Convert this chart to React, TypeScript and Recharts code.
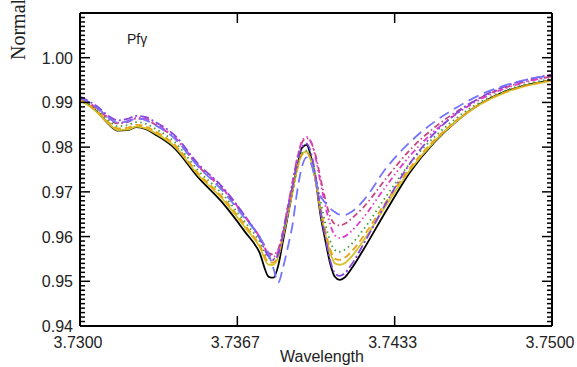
import React from 'react';
import { LineChart, Line, XAxis, YAxis, Customized } from 'recharts';

// wavelength grid (microns)
const wavelengths = [
  3.7300, 3.7304, 3.7308, 3.7312, 3.7316, 3.7320, 3.7324, 3.7328, 3.7332, 3.7340,
  3.7350, 3.7360, 3.7370, 3.7376, 3.7380, 3.7382, 3.7384, 3.7386, 3.7388, 3.7390,
  3.7392, 3.7394, 3.7396, 3.7398, 3.7400, 3.7402, 3.7404, 3.7406, 3.7408, 3.7410,
  3.7412, 3.7415, 3.7420, 3.7430, 3.7440, 3.7450, 3.7460, 3.7470, 3.7480, 3.7490,
  3.7500,
];

const fluxBlack = [
  0.9905, 0.9893, 0.9875, 0.9852, 0.9837, 0.9838, 0.9845, 0.9840, 0.9828, 0.9798,
  0.9733, 0.9678, 0.9610, 0.9565, 0.9510, 0.9508, 0.9535, 0.9590, 0.9645, 0.9700,
  0.9755, 0.9798, 0.9805, 0.9775, 0.9720, 0.9645, 0.9590, 0.9540, 0.9510, 0.9503,
  0.9508, 0.9528, 0.9570, 0.9660, 0.9745, 0.9810, 0.9860, 0.9898, 0.9924, 0.9940,
  0.9950,
];
const fluxYellow = [
  0.9905, 0.9892, 0.9874, 0.9853, 0.9838, 0.9839, 0.9846, 0.9842, 0.9831, 0.9802,
  0.9738, 0.9686, 0.9620, 0.9578, 0.9537, 0.9537, 0.9555, 0.9600, 0.9650, 0.9700,
  0.9750, 0.9785, 0.9790, 0.9768, 0.9720, 0.9655, 0.9605, 0.9565, 0.9540, 0.9537,
  0.9540, 0.9555, 0.9590, 0.9672, 0.9750, 0.9812, 0.9860, 0.9897, 0.9922, 0.9938,
  0.9949,
];
const fluxOrange = [
  0.9906, 0.9894, 0.9877, 0.9856, 0.9842, 0.9843, 0.9850, 0.9846, 0.9835, 0.9806,
  0.9742, 0.9690, 0.9625, 0.9582, 0.9543, 0.9542, 0.9558, 0.9602, 0.9650, 0.9700,
  0.9750, 0.9783, 0.9788, 0.9768, 0.9722, 0.9662, 0.9612, 0.9572, 0.9550, 0.9548,
  0.9552, 0.9566, 0.9600, 0.9680, 0.9755, 0.9815, 0.9862, 0.9898, 0.9923, 0.9939,
  0.9950,
];
const fluxGreen = [
  0.9908, 0.9896, 0.9880, 0.9860, 0.9847, 0.9849, 0.9856, 0.9852, 0.9841, 0.9812,
  0.9748, 0.9697, 0.9632, 0.9590, 0.9552, 0.9550, 0.9565, 0.9607, 0.9655, 0.9705,
  0.9755, 0.9787, 0.9792, 0.9775, 0.9732, 0.9677, 0.9628, 0.9590, 0.9570, 0.9566,
  0.9570, 0.9583, 0.9615, 0.9692, 0.9765, 0.9822, 0.9867, 0.9902, 0.9926, 0.9942,
  0.9953,
];
const fluxMagenta = [
  0.9910, 0.9899, 0.9884, 0.9866, 0.9855, 0.9858, 0.9866, 0.9863, 0.9852, 0.9823,
  0.9760, 0.9710, 0.9645, 0.9600, 0.9560, 0.9555, 0.9568, 0.9610, 0.9665, 0.9720,
  0.9775, 0.9812, 0.9823, 0.9810, 0.9772, 0.9718, 0.9668, 0.9627, 0.9603, 0.9597,
  0.9600, 0.9612, 0.9642, 0.9715, 0.9782, 0.9835, 0.9876, 0.9908, 0.9931, 0.9947,
  0.9958,
];
const fluxMauve = [
  0.9910, 0.9898, 0.9883, 0.9864, 0.9853, 0.9856, 0.9864, 0.9861, 0.9850, 0.9821,
  0.9758, 0.9708, 0.9643, 0.9600, 0.9563, 0.9560, 0.9572, 0.9612, 0.9665, 0.9720,
  0.9773, 0.9810, 0.9820, 0.9810, 0.9778, 0.9728, 0.9682, 0.9645, 0.9628, 0.9625,
  0.9628, 0.9640, 0.9665, 0.9732, 0.9795, 0.9843, 0.9881, 0.9911, 0.9933, 0.9948,
  0.9958,
];
const fluxPurple = [
  0.9913, 0.9902, 0.9888, 0.9870, 0.9860, 0.9863, 0.9870, 0.9867, 0.9856, 0.9827,
  0.9763, 0.9713, 0.9645, 0.9597, 0.9555, 0.9548, 0.9560, 0.9605, 0.9660, 0.9712,
  0.9765, 0.9800, 0.9808, 0.9785, 0.9730, 0.9655, 0.9597, 0.9547, 0.9518, 0.9512,
  0.9517, 0.9537, 0.9582, 0.9678, 0.9765, 0.9830, 0.9878, 0.9912, 0.9936, 0.9952,
  0.9962,
];
const fluxBlue = [
  0.9911, 0.9900, 0.9885, 0.9866, 0.9855, 0.9857, 0.9864, 0.9860, 0.9849, 0.9820,
  0.9757, 0.9705, 0.9640, 0.9600, 0.9560, 0.9528, 0.9497, 0.9530, 0.9575, 0.9625,
  0.9700, 0.9755, 0.9777, 0.9762, 0.9722, 0.9690, 0.9675, 0.9663, 0.9655, 0.9649,
  0.9648, 0.9655, 0.9680, 0.9755, 0.9812, 0.9856, 0.9890, 0.9918, 0.9938, 0.9952,
  0.9960,
];

const xTickValues = [3.73, 3.736667, 3.743333, 3.75];
const xTickLabels = ['3.7300', '3.7367', '3.7433', '3.7500'];
const yTickLabels = ['0.94', '0.95', '0.96', '0.97', '0.98', '0.99', '1.00'];

// minor ticks every 0.001 from 0.940 to 1.010
const yMinorTicks: number[] = [];
for (let m = 940; m <= 1010; m++) yMinorTicks.push(m / 1000);

const data = wavelengths.map((w, i) => ({
  w,
  black: fluxBlack[i],
  yellow: fluxYellow[i],
  orange: fluxOrange[i],
  green: fluxGreen[i],
  magenta: fluxMagenta[i],
  mauve: fluxMauve[i],
  purple: fluxPurple[i],
  blue: fluxBlue[i],
}));

const series = [
  { key: 'black', color: '#000000', dash: undefined },
  { key: 'yellow', color: '#d6c22a', dash: undefined },
  { key: 'orange', color: '#e8a317', dash: '7 4' },
  { key: 'green', color: '#3c9e3c', dash: '1.5 3.5' },
  { key: 'mauve', color: '#c4467e', dash: '6 3 1.5 3' },
  { key: 'magenta', color: '#e03ccc', dash: '6 3 1.5 3 1.5 3' },
  { key: 'purple', color: '#8446dc', dash: '9 3 2 3' },
  { key: 'blue', color: '#7474ff', dash: '11 6' },
];

const tickFont = 'Liberation Sans, Arial, sans-serif';
const DOMAIN_X: [number, number] = [3.73, 3.75];
const DOMAIN_Y: [number, number] = [0.94, 1.01];

const isMajor = (v: number) => Math.round(v * 1000) % 10 === 0;

function LeftTick(props: any) {
  const { x, y, payload } = props;
  const milli = Math.round(payload.value * 1000);
  const label = yTickLabels.find(l => Math.round(parseFloat(l) * 1000) === milli);
  return (
    <g>
      <line x1={x} x2={x + (isMajor(payload.value) ? 10 : 5)} y1={y} y2={y} stroke="#000" strokeWidth={1.5} />
      {label && (
        <text x={x - 7} y={y + 6} textAnchor="end" fontSize={16} fill="#222" fontFamily={tickFont}>
          {label}
        </text>
      )}
    </g>
  );
}

function BottomTick(props: any) {
  const { x, y, index } = props;
  return (
    <g>
      <line x1={x} x2={x} y1={y} y2={y - 10} stroke="#000" strokeWidth={1.5} />
      <text x={x - 2} y={y + 22} textAnchor="middle" fontSize={16} fill="#222" fontFamily={tickFont}>
        {xTickLabels[index]}
      </text>
    </g>
  );
}

function RightTick(props: any) {
  const { x, y, payload } = props;
  return <line x1={x} x2={x - (isMajor(payload.value) ? 10 : 5)} y1={y} y2={y} stroke="#000" strokeWidth={1.5} />;
}

function TopTick(props: any) {
  const { x, y } = props;
  return <line x1={x} x2={x} y1={y} y2={y + 10} stroke="#000" strokeWidth={1.5} />;
}

function Annotations() {
  return (
    <g>
      <text x={127} y={44} fontSize={14} fill="#222" fontFamily={tickFont}>Pfγ</text>
      <text x={322} y={362} textAnchor="middle" fontSize={16} fill="#222" fontFamily={tickFont}>
        Wavelength
      </text>
      <text
        x={25}
        y={60}
        transform="rotate(-90 25 60)"
        fontSize={20}
        fill="#222"
        fontFamily="Liberation Serif, Times New Roman, serif"
      >
        Normalized Flux
      </text>
    </g>
  );
}

const axisLine = { stroke: '#000', strokeWidth: 2 };
const frameAxis = {
  type: 'number' as const,
  interval: 0 as const,
  tickSize: 0,
  tickMargin: 0,
  tickLine: false,
  axisLine,
};

export default function App() {
  return (
    <div style={{ position: 'absolute', left: 0, top: 0, background: '#fff' }}>
      <LineChart width={577} height={367} data={data} margin={{ top: 12, right: 24, bottom: 0, left: 0 }}>
        {/* hidden default axes carry the spectra; zero size so they take no room */}
        <XAxis dataKey="w" type="number" domain={DOMAIN_X} height={0} hide />
        <YAxis type="number" domain={DOMAIN_Y} width={0} hide />
        {/* visible frame: four named axes */}
        <XAxis xAxisId="bottom" dataKey="w" domain={DOMAIN_X} ticks={xTickValues} height={41} tick={BottomTick} {...frameAxis} />
        <YAxis yAxisId="left" domain={DOMAIN_Y} ticks={yMinorTicks} width={80} tick={LeftTick} {...frameAxis} />
        <XAxis xAxisId="top" orientation="top" dataKey="w" domain={DOMAIN_X} ticks={xTickValues} height={1} tick={TopTick} {...frameAxis} />
        <YAxis yAxisId="right" orientation="right" domain={DOMAIN_Y} ticks={yMinorTicks} width={1} tick={RightTick} {...frameAxis} />
        {/* invisible copies so the named axes get drawn */}
        <Line xAxisId="bottom" yAxisId="left" dataKey="black" stroke="none" dot={false} legendType="none" isAnimationActive={false} />
        <Line xAxisId="top" yAxisId="right" dataKey="black" stroke="none" dot={false} legendType="none" isAnimationActive={false} />
        {series.map(s => (
          <Line
            key={s.key}
            dataKey={s.key}
            type="monotone"
            stroke={s.color}
            strokeWidth={1.8}
            strokeDasharray={s.dash}
            dot={false}
            isAnimationActive={false}
          />
        ))}
        <Customized component={Annotations} />
      </LineChart>
    </div>
  );
}
